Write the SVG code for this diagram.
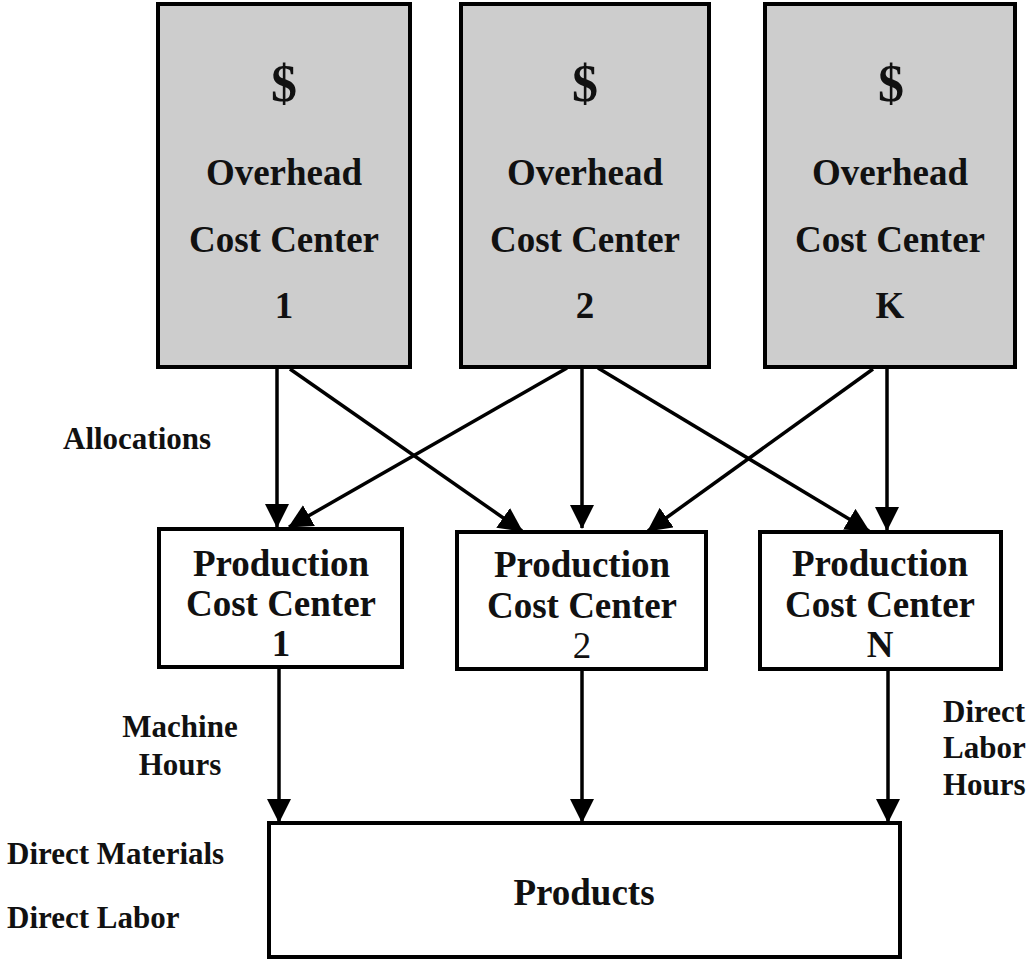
<svg xmlns="http://www.w3.org/2000/svg" width="1029" height="959" viewBox="0 0 1029 959">
<defs>
<marker id="ah" markerUnits="userSpaceOnUse" markerWidth="24" markerHeight="24" refX="23" refY="12" orient="auto" viewBox="0 0 24 24">
<path d="M0,0 L24,12 L0,24 z" fill="#000"/>
</marker>
</defs>
<style>
.oh{fill:#cdcdcd;stroke:#000;stroke-width:4}
.pc{fill:#fff;stroke:#000;stroke-width:4}
.t{font-family:"Liberation Serif","Times New Roman",serif;font-weight:bold;fill:#111}
.c{text-anchor:middle}
.big{font-size:37px}
.dol{font-size:52px}
.lab{font-size:31px}
.con{stroke:#000;stroke-width:3.5;fill:none;marker-end:url(#ah)}
</style>
<rect width="1029" height="959" fill="#fff"/>
<g id="connectors">
<path class="con" d="M277,369 L277,527"/>
<path class="con" d="M582,369 L582,528"/>
<path class="con" d="M887,369 L887,530"/>
<path class="con" d="M290,369 L522,531"/>
<path class="con" d="M567,368 L289,527"/>
<path class="con" d="M598,368 L869,531"/>
<path class="con" d="M873,369 L648,531"/>
<path class="con" d="M279,669 L279,822"/>
<path class="con" d="M582,671 L582,822"/>
<path class="con" d="M888,670 L888,822"/>
</g>
<g id="overhead1">
<rect class="oh" x="158" y="4" width="252" height="363"/>
<text class="t c dol" x="284" y="101">$</text>
<text class="t c big" x="284" y="185">Overhead</text>
<text class="t c big" x="284" y="252">Cost Center</text>
<text class="t c big" x="284" y="318">1</text>
</g>
<g id="overhead2">
<rect class="oh" x="461" y="4" width="248" height="363"/>
<text class="t c dol" x="585" y="101">$</text>
<text class="t c big" x="585" y="185">Overhead</text>
<text class="t c big" x="585" y="252">Cost Center</text>
<text class="t c big" x="585" y="318">2</text>
</g>
<g id="overheadK">
<rect class="oh" x="765" y="4" width="250" height="363"/>
<text class="t c dol" x="891" y="101">$</text>
<text class="t c big" x="890" y="185">Overhead</text>
<text class="t c big" x="890" y="252">Cost Center</text>
<text class="t c big" x="890" y="318">K</text>
</g>
<g id="production1">
<rect class="pc" x="159" y="529" width="243" height="138"/>
<text class="t c big" x="281" y="576">Production</text>
<text class="t c big" x="281" y="616">Cost Center</text>
<text class="t c big" x="281" y="656">1</text>
</g>
<g id="production2">
<rect class="pc" x="457" y="532" width="249" height="137"/>
<text class="t c big" x="582" y="577">Production</text>
<text class="t c big" x="582" y="618">Cost Center</text>
<text class="t c big" x="582" y="658" style="font-weight:normal">2</text>
</g>
<g id="productionN">
<rect class="pc" x="760" y="532" width="241" height="137"/>
<text class="t c big" x="880" y="576">Production</text>
<text class="t c big" x="880" y="617">Cost Center</text>
<text class="t c big" x="880" y="657">N</text>
</g>
<g id="products">
<rect class="pc" x="269" y="823" width="631" height="134"/>
<text class="t c big" x="584" y="905">Products</text>
</g>
<g id="labels">
<text class="t lab" x="63" y="449">Allocations</text>
<text class="t c lab" x="180" y="737">Machine</text>
<text class="t c lab" x="180" y="775">Hours</text>
<text class="t lab" x="7" y="864">Direct Materials</text>
<text class="t lab" x="7" y="928">Direct Labor</text>
<text class="t lab" x="943" y="722">Direct</text>
<text class="t lab" x="943" y="758">Labor</text>
<text class="t lab" x="943" y="795">Hours</text>
</g>
</svg>
